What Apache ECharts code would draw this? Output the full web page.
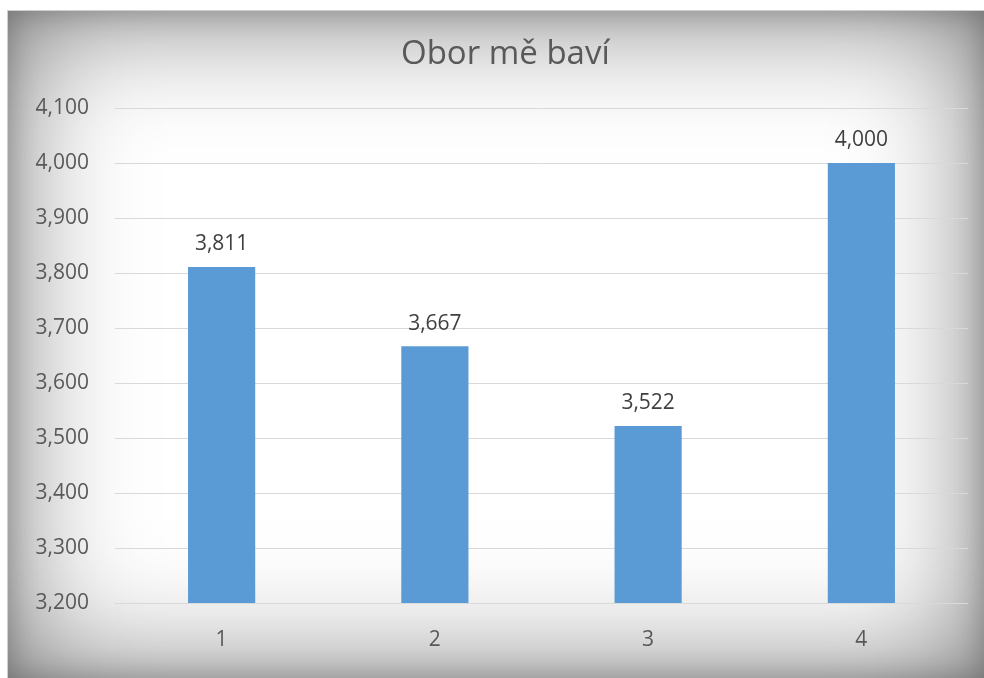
<!DOCTYPE html>
<html>
<head>
<meta charset="utf-8">
<script src="https://cdn.jsdelivr.net/npm/echarts@6/dist/echarts.min.js"></script>
<style>
	html, body { margin: 0; padding: 0; background: #fff; }
	#frame {
		position: absolute; left: 7px; top: 10px; width: 976px; height: 667px;
		border-top: 1px solid #cfcfcf; border-left: 1px solid #cfcfcf;
		box-shadow: inset 0 0 130px rgba(0, 0, 0, 0.55), inset 0 0 30px rgba(0, 0, 0, 0.25);
		background: #fff;
	}
	#chart { position: absolute; left: 0; top: 0; width: 984px; height: 678px; }
</style>
</head>
<body>
<div id="frame"></div>
<div id="chart"></div>
<script>
	// data
	let categories = ['1', '2', '3', '4'];
	let values = [3.811, 3.667, 3.522, 4.000];
	let yMin = 3.2, yMax = 4.1, yStep = 0.1;

	function fmt(v) {
		return Number(v).toFixed(3).replace('.', ',');
	}

	let myChart = echarts.init(document.getElementById('chart'));

	let font = 'Open Sans';

	let option = {
		animation: false,
		title: {
			text: 'Obor mě baví',
			left: 396,
			top: 33,
			textStyle: {
				fontFamily: font,
				fontSize: 33,
				fontWeight: 'normal',
				color: '#595959'
			}
		},
		grid: {
			left: 115,
			right: 16,
			top: 108,
			bottom: 75
		},
		xAxis: {
			type: 'category',
			data: categories,
			axisLine: { lineStyle: { color: '#d9d9d9', width: 1 } },
			axisTick: { show: false },
			axisLabel: {
				margin: 27,
				fontFamily: font,
				fontSize: 21,
				color: '#595959'
			}
		},
		yAxis: {
			type: 'value',
			min: yMin,
			max: yMax,
			interval: yStep,
			axisLine: { show: false },
			axisTick: { show: false },
			splitLine: { lineStyle: { color: '#d9d9d9', width: 1 } },
			axisLabel: {
				margin: 26,
				fontFamily: font,
				fontSize: 21,
				color: '#595959',
				formatter: function(v) { return fmt(v); }
			}
		},
		series: [
			{
				type: 'bar',
				data: values,
				barWidth: '31.5%',
				itemStyle: { color: '#5b9bd5' },
				label: {
					show: true,
					position: 'top',
					distance: 12,
					fontFamily: font,
					fontSize: 21,
					color: '#404040',
					formatter: function(p) { return fmt(p.value); }
				}
			}
		]
	};

	myChart.setOption(option);
</script>
</body>
</html>
